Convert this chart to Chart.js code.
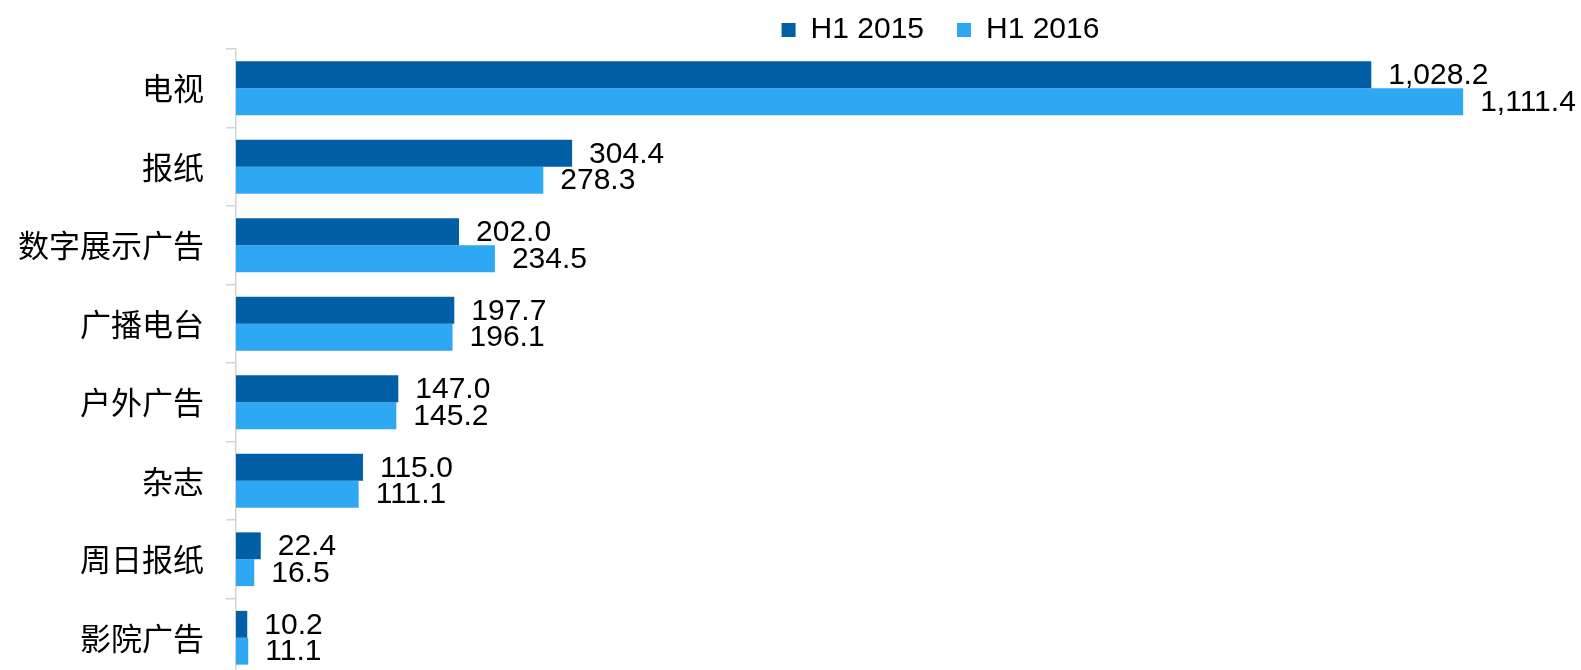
<!DOCTYPE html>
<html>
<head>
<meta charset="utf-8">
<script src="https://cdn.jsdelivr.net/npm/chart.js@4/dist/chart.umd.min.js"></script>
<style>
  html, body { margin: 0; padding: 0; background: #ffffff; overflow: hidden; }
  #wrap { width: 1581px; height: 677px; position: relative; }
</style>
</head>
<body>
<div id="wrap"><canvas id="c"></canvas></div>
<script>
const categories = ['电视', '报纸', '数字展示广告', '广播电台', '户外广告', '杂志', '周日报纸', '影院广告'];
const seriesNames = ['H1 2015', 'H1 2016'];
const h1_2015 = [1028.2, 304.4, 202.0, 197.7, 147.0, 115.0, 22.4, 10.2];
const h1_2016 = [1111.4, 278.3, 234.5, 196.1, 145.2, 111.1, 16.5, 11.1];

const LATIN = '"Liberation Sans", Arial, "Noto Sans CJK SC", sans-serif';
const CJK = '"Noto Sans CJK SC", "Liberation Sans", sans-serif';

const fmt = v => v.toLocaleString('en-US', { minimumFractionDigits: 1, maximumFractionDigits: 1 });

const layoutHack = {
  id: 'layoutHack',
  beforeInit(chart) {
    const lg = chart.legend;
    if (lg) {
      const origFit = lg.fit.bind(lg);
      lg.fit = function () { origFit(); this.height = 49; };
    }
  },
  afterLayout(chart) {
    const lg = chart.legend;
    if (lg) {
      lg.left += 160; lg.right += 160;
      lg.top -= 18;
    }
  }
};

const valueLabels = {
  id: 'valueLabels',
  afterDatasetsDraw(chart) {
    const ctx = chart.ctx;
    ctx.save();
    ctx.font = '30px ' + LATIN;
    ctx.fillStyle = '#000000';
    ctx.textAlign = 'left';
    ctx.textBaseline = 'middle';
    chart.data.datasets.forEach((ds, di) => {
      const meta = chart.getDatasetMeta(di);
      meta.data.forEach((bar, i) => {
        ctx.fillText(fmt(ds.data[i]), bar.x + 17, bar.y + 1);
      });
    });
    ctx.restore();
  }
};

new Chart(document.getElementById('c'), {
  type: 'bar',
  data: {
    labels: categories,
    datasets: [
      { label: seriesNames[0], data: h1_2015, backgroundColor: '#005FA5', borderWidth: 0,
        categoryPercentage: 0.685, barPercentage: 1.0 },
      { label: seriesNames[1], data: h1_2016, backgroundColor: '#2FA8F4', borderWidth: 0,
        categoryPercentage: 0.685, barPercentage: 1.0 }
    ]
  },
  options: {
    indexAxis: 'y',
    responsive: true,
    maintainAspectRatio: false,
    animation: false,
    layout: { padding: { left: 0, right: 20, top: 0, bottom: 0 } },
    plugins: {
      legend: {
        display: true,
        position: 'top',
        align: 'center',
        labels: {
          boxWidth: 14,
          boxHeight: 14,
          padding: 33,
          color: '#000000',
          font: { family: LATIN, size: 30 }
        }
      },
      tooltip: { enabled: false }
    },
    scales: {
      x: {
        display: false,
        min: 0,
        max: 1200
      },
      y: {
        offset: true,
        afterFit(s) { s.width = 236; s.paddingTop = 0; s.paddingBottom = 0; },
        grid: {
          display: true,
          offset: true,
          drawOnChartArea: false,
          drawTicks: true,
          tickLength: 10,
          color: '#d4d4d4',
          lineWidth: 1.5
        },
        border: { display: true, color: '#d4d4d4', width: 1.5 },
        ticks: {
          color: '#000000',
          padding: 22,
          font: { family: CJK, size: 31 }
        }
      }
    }
  },
  plugins: [layoutHack, valueLabels]
});
</script>
</body>
</html>
